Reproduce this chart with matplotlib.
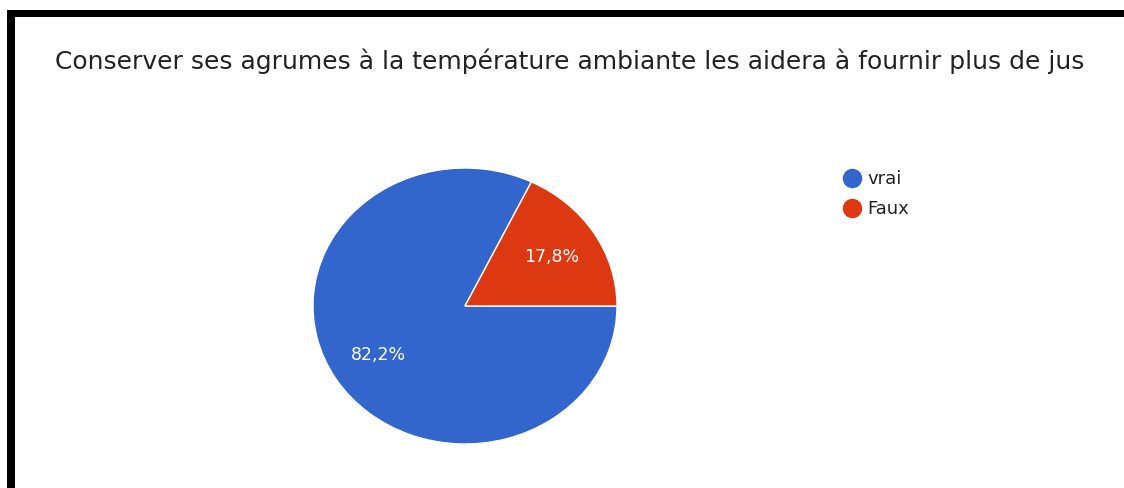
import matplotlib.pyplot as plt
from matplotlib.lines import Line2D
from matplotlib.patches import Rectangle

title = "Conserver ses agrumes à la température ambiante les aidera à fournir plus de jus"
labels = ["vrai", "Faux"]
values = [82.2, 17.8]
colors = ["#3366CC", "#DC3912"]

W, H = 1124, 488
fig = plt.figure(figsize=(W / 100, H / 100), dpi=100)
fig.patch.set_facecolor("white")

# pie axes placed in pixel coords (the original is stretched a bit sideways)
ax = fig.add_axes([313 / W, (H - 444) / H, 304 / W, 276 / H])
wedges, texts, autotexts = ax.pie(
    values, colors=colors, startangle=360 * values[1] / 100, counterclock=True,
    wedgeprops=dict(edgecolor="white", linewidth=1),
    autopct=lambda p: f"{p:.1f}%".replace(".", ","), pctdistance=0.67,
    textprops=dict(color="white", fontsize=12.5),
)
ax.set_aspect("auto")
ax.set_xlim(-1, 1)
ax.set_ylim(-1, 1)

fig.text(55 / W, 1 - 61 / H, title, ha="left", va="center",
         fontsize=18, color="#222222")

handles = [Line2D([], [], marker="o", linestyle="none", markersize=13,
                  markerfacecolor=c, markeredgecolor=c) for c in colors]
fig.legend(handles, labels, loc="upper left",
           bbox_to_anchor=(843 / W, 1 - 170 / H), frameon=False,
           fontsize=13, handlelength=1, handletextpad=0.35, labelspacing=0.66,
           borderpad=0, borderaxespad=0, labelcolor="#222222")

# black frame bits on top and left
fig.add_artist(Rectangle((7 / W, 1 - 17 / H), 1, 7 / H, transform=fig.transFigure,
                         color="black", lw=0))
fig.add_artist(Rectangle((7 / W, 0), 8 / W, 1 - 10 / H, transform=fig.transFigure,
                         color="black", lw=0))

fig.savefig("out.png", dpi=100)
